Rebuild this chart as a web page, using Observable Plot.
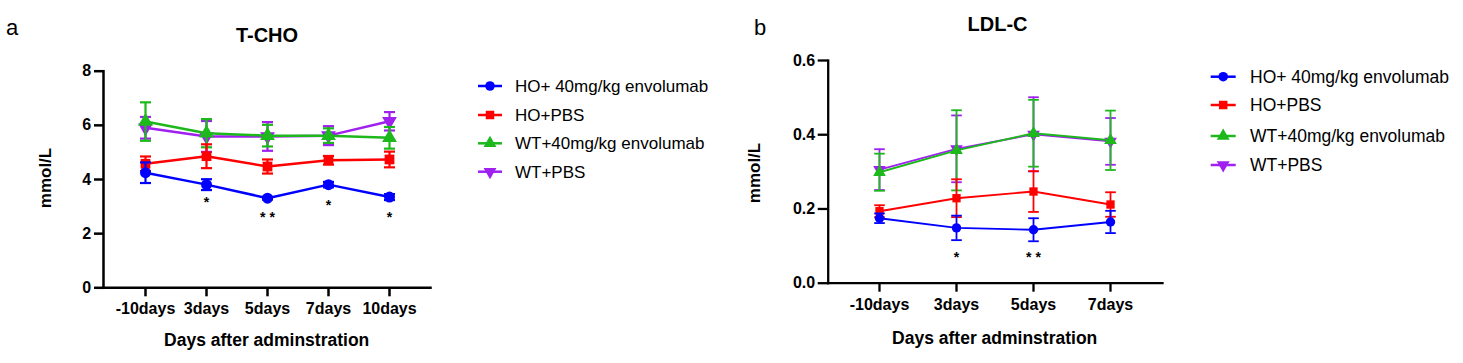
<!DOCTYPE html>
<html><head><meta charset="utf-8">
<script src="https://cdn.jsdelivr.net/npm/d3@7"></script>
<script src="https://cdn.jsdelivr.net/npm/@observablehq/plot@0.6"></script>
<style>
body{margin:0;background:#fff;font-family:"Liberation Sans",Arial,sans-serif;color:#000;}
#root{position:relative;width:1463px;height:363px;overflow:hidden;background:#fff;}
.abs{position:absolute;white-space:nowrap;line-height:1.15;transform:translate(-50%,-50%);}
.chart{position:absolute;top:0;}
.chart svg text{font-weight:bold;}
</style></head><body><div id="root"></div>
<script>
// ---------- shared ----------
const seriesNames = ["HO+ 40mg/kg envolumab","HO+PBS","WT+40mg/kg envolumab","WT+PBS"];
const seriesColors = ["#0000ff","#ff0000","#1cb81c","#a020f0"];
const drawOrder = [3,2,1,0];

// ---------- T-CHO ----------
const tchoDays = ["-10days","3days","5days","7days","10days"];
const tchoHOEnv = [4.25,3.81,3.31,3.81,3.35];
const tchoHOEnvErr = [0.38,0.20,0.05,0.10,0.11];
const tchoHOPBS = [4.58,4.86,4.48,4.71,4.74];
const tchoHOPBSErr = [0.27,0.44,0.26,0.16,0.29];
const tchoWTEnv = [6.14,5.71,5.62,5.62,5.54];
const tchoWTEnvErr = [0.71,0.52,0.40,0.27,0.40];
const tchoWTPBS = [5.91,5.59,5.59,5.62,6.15];
const tchoWTPBSErr = [0.40,0.57,0.53,0.35,0.34];
const tchoTicks = [0,2,4,6,8];
const tchoStarDays = ["3days","5days","7days","10days"];
const tchoStarY = [3.29,2.73,3.20,2.73];
const tchoStarText = ["*","* *","*","*"];

// ---------- LDL-C ----------
const ldlDays = ["-10days","3days","5days","7days"];
const ldlHOEnv = [0.175,0.149,0.144,0.165];
const ldlHOEnvErr = [0.013,0.033,0.031,0.030];
const ldlHOPBS = [0.194,0.229,0.247,0.212];
const ldlHOPBSErr = [0.016,0.051,0.055,0.033];
const ldlWTEnv = [0.299,0.358,0.404,0.385];
const ldlWTEnvErr = [0.050,0.108,0.090,0.080];
const ldlWTPBS = [0.306,0.362,0.401,0.382];
const ldlWTPBSErr = [0.055,0.090,0.100,0.063];
const ldlTicks = [0,0.2,0.4,0.6];
const ldlStarDays = ["3days","5days"];
const ldlStarY = [0.079,0.079];
const ldlStarText = ["*","* *"];

// ---------- symbols ----------
const sqrt3 = Math.sqrt(3);
const capSymbol = {draw(ctx, size){ const w = Math.sqrt(size/Math.PI); ctx.moveTo(-w,0); ctx.lineTo(w,0); }};
const triDown = {draw(ctx, size){ const y = -Math.sqrt(size/(sqrt3*3)); ctx.moveTo(0,-y*2); ctx.lineTo(-sqrt3*y, y); ctx.lineTo(sqrt3*y, y); ctx.closePath(); }};
const seriesSymbols = ["circle","square","triangle",triDown];

function rows(days, vals, errs, s){
  return days.map((d,i)=>({day:d, series:seriesNames[s], value:vals[i], lo:vals[i]-errs[i], hi:vals[i]+errs[i]}));
}

function chart(cfg){
  const marks = [
    Plot.axisX({tickSize:cfg.tickX, tickPadding:cfg.padX, fontSize:16, strokeWidth:cfg.aw, label:null}),
    Plot.axisY({ticks:cfg.ticks, tickFormat:cfg.fmt, tickSize:cfg.tickY, tickPadding:cfg.padY, fontSize:16, strokeWidth:cfg.aw, label:null}),
  ];
  for (const s of drawOrder){
    const data = rows(cfg.days, cfg.values[s], cfg.errs[s], s);
    const c = seriesColors[s];
    marks.push(Plot.ruleX(data,{x:"day", y1:"lo", y2:"hi", stroke:c, strokeWidth:cfg.ew}));
    marks.push(Plot.dot(data,{x:"day", y:"hi", symbol:capSymbol, r:cfg.cap, stroke:c, fill:"none", strokeWidth:cfg.ew}));
    marks.push(Plot.dot(data,{x:"day", y:"lo", symbol:capSymbol, r:cfg.cap, stroke:c, fill:"none", strokeWidth:cfg.ew}));
    marks.push(Plot.line(data,{x:"day", y:"value", stroke:c, strokeWidth:cfg.lw}));
    marks.push(Plot.dot(data,{x:"day", y:"value", symbol:seriesSymbols[s], r:cfg.r, fill:c, stroke:"none"}));
  }
  const stars = cfg.starDays.map((d,i)=>({day:d, y:cfg.starY[i], t:cfg.starText[i]}));
  marks.push(Plot.text(stars,{x:"day", y:"y", text:"t", fontSize:14, lineAnchor:"middle", dy:4, fill:"black"}));
  marks.push(Plot.frame({anchor:"left", strokeWidth:cfg.aw, strokeLinecap:"square"}));
  marks.push(Plot.frame({anchor:"bottom", strokeWidth:cfg.aw, strokeLinecap:"square"}));
  return Plot.plot({
    width:cfg.width, height:363,
    marginLeft:cfg.ml, marginRight:cfg.mr, marginTop:cfg.mt, marginBottom:cfg.mb,
    style:{fontFamily:"'Liberation Sans', Arial, sans-serif", background:"transparent", maxWidth:"none", color:"black", overflow:"visible"},
    x:{type:"point", domain:cfg.days, padding:cfg.pad, axis:null},
    y:{domain:cfg.yDomain, axis:null},
    marks
  });
}

const root = document.getElementById("root");
function place(el, left){ const d = document.createElement("div"); d.className="chart"; d.style.left = left+"px"; d.appendChild(el); root.appendChild(d); }

place(chart({
  days:tchoDays, values:[tchoHOEnv,tchoHOPBS,tchoWTEnv,tchoWTPBS], errs:[tchoHOEnvErr,tchoHOPBSErr,tchoWTEnvErr,tchoWTPBSErr],
  ticks:tchoTicks, fmt:d3.format("d"), yDomain:[0,8],
  starDays:tchoStarDays, starY:tchoStarY, starText:tchoStarText,
  width:450, ml:103, mr:20, mt:70.7, mb:75.7, pad:0.68,
  tickX:9, padX:5.5, tickY:9, padY:3.3, aw:2.5, ew:2.2, lw:2.5, cap:5.5, r:5.5
}), 0);

place(chart({
  days:ldlDays, values:[ldlHOEnv,ldlHOPBS,ldlWTEnv,ldlWTPBS], errs:[ldlHOEnvErr,ldlHOPBSErr,ldlWTEnvErr,ldlWTPBSErr],
  ticks:ldlTicks, fmt:d3.format(".1f"), yDomain:[0,0.6],
  starDays:ldlStarDays, starY:ldlStarY, starText:ldlStarText,
  width:450, ml:107.7, mr:8, mt:60, mb:80.3, pad:0.67,
  tickX:9, padX:6.5, tickY:10, padY:3, aw:2.3, ew:1.8, lw:1.9, cap:5.3, r:4.7
}), 720);

// ---------- text labels ----------
function label(text, x, y, size, weight, rotate){
  const d = document.createElement("div");
  d.className = "abs";
  d.textContent = text;
  d.style.left = x+"px"; d.style.top = y+"px";
  d.style.fontSize = size+"px"; d.style.fontWeight = weight;
  if (rotate) d.style.transform = "translate(-50%,-50%) rotate(-90deg)";
  root.appendChild(d);
}
label("a", 12, 28, 22, "normal");
label("T-CHO", 267, 35, 20, "bold");
label("mmol/L", 46.3, 178.3, 17, "bold", true);
label("Days after adminstration", 266.7, 340, 17.5, "bold");
label("b", 760, 28, 22, "normal");
label("LDL-C", 997.5, 24.2, 20, "bold");
label("mmol/L", 755, 172.5, 17, "bold", true);
label("Days after adminstration", 994.7, 338.3, 17.5, "bold");

// ---------- legends ----------
const svg = d3.select(root).append("svg").attr("width",1463).attr("height",363)
  .style("position","absolute").style("left",0).style("top",0).style("pointer-events","none");
const legends = [
  {x1:478, x2:502, tx:515, ys:[86,115,143.3,171.7], fs:17, r:4.8},
  {x1:1210.7, x2:1235.7, tx:1250, ys:[76.7,105,136,165], fs:17.5, r:4.8}
];
const d3Symbols = [d3.symbolCircle, d3.symbolSquare, d3.symbolTriangle, triDown];
for (const L of legends){
  seriesNames.forEach((name,i)=>{
    const g = svg.append("g");
    const y = L.ys[i];
    g.append("line").attr("x1",L.x1).attr("x2",L.x2).attr("y1",y).attr("y2",y).attr("stroke",seriesColors[i]).attr("stroke-width",2.5);
    g.append("path").attr("d", d3.symbol(d3Symbols[i], L.r*L.r*Math.PI)()).attr("transform",`translate(${(L.x1+L.x2)/2},${y})`).attr("fill",seriesColors[i]);
    g.append("text").attr("x",L.tx).attr("y",y).attr("dy","0.35em").attr("font-size",L.fs)
      .attr("font-family","'Liberation Sans', Arial, sans-serif").attr("fill","black").text(name);
  });
}
</script></body></html>
